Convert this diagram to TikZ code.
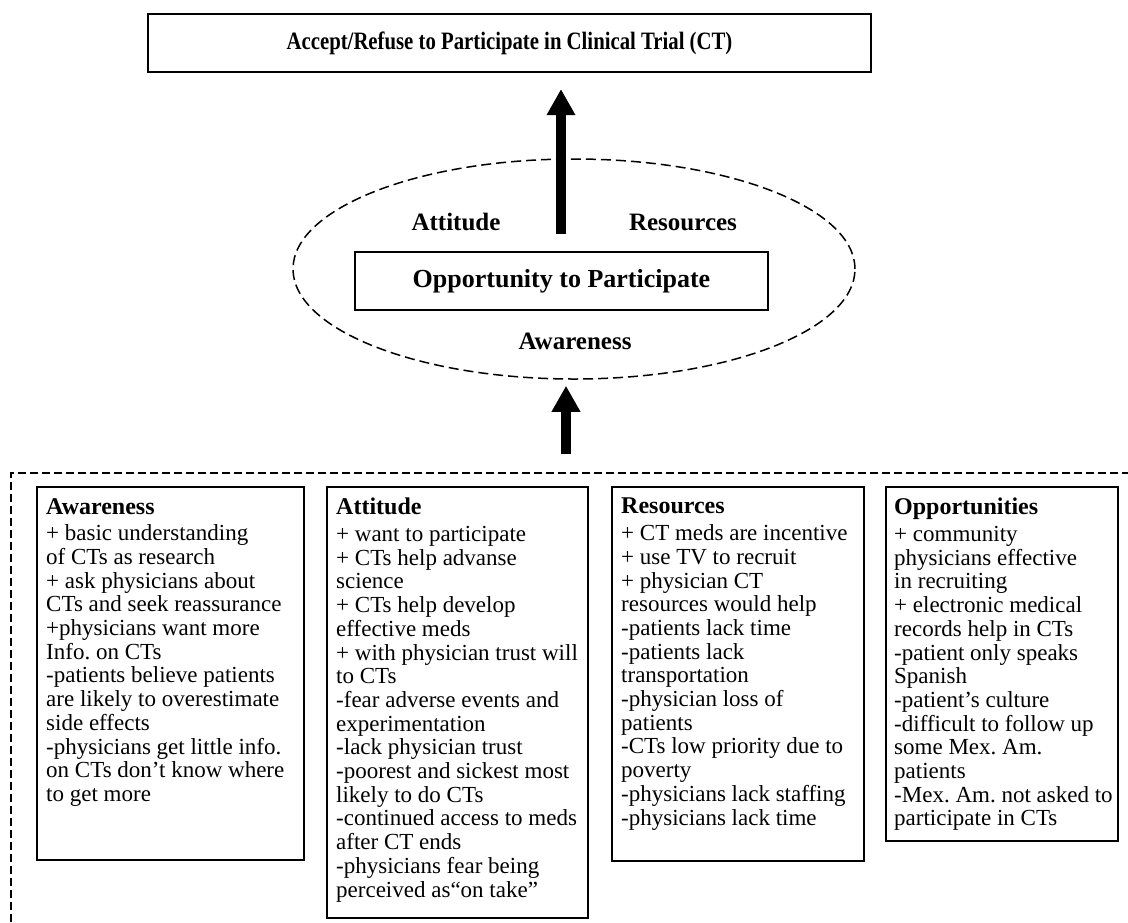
\documentclass[tikz,border=0pt]{standalone}
\usepackage{fontspec}
\setmainfont{Liberation Serif}[Ligatures={TeX,NoCommon}]
\usepackage{graphicx}
\usetikzlibrary{arrows.meta,shapes.geometric}
\begin{document}
\frenchspacing
\begin{tikzpicture}[x=1pt,y=-1pt,
  frame/.style={draw, line width=1.8pt, inner sep=0pt},
  body/.style={anchor=north west, align=left, inner sep=0pt, font=\fontsize{23}{23.7}\selectfont\frenchspacing},
  lab/.style={font=\fontsize{25}{25}\selectfont\bfseries, inner sep=0pt},
  bigarrow/.style={line width=10pt, -{Triangle[width=27pt,length=26pt]}},
  outerdash/.style={line width=1.2pt, dash pattern=on 8pt off 4pt},
]
\useasboundingbox (0,0) rectangle (1128,922);

% top box
\node[frame, line width=2.2pt, minimum width=723pt, minimum height=58pt,
      font=\fontsize{25}{25}\selectfont\bfseries] (top) at (509.5,43)
      {\scalebox{0.83}[1]{Accept/Refuse to Participate in Clinical Trial (CT)}};

% ellipse
\node[draw, ellipse, line width=1.5pt, dash pattern=on 10pt off 5pt,
      minimum width=562pt, minimum height=220pt, inner sep=0pt] (ell) at (574,269) {};

% opportunity box
\node[frame, line width=1.6pt, minimum width=413pt, minimum height=58pt,
      font=\fontsize{26}{26}\selectfont\bfseries] (opp) at (561.5,281) {Opportunity to Participate};

\node[lab] (latt) at (456,222) {Attitude};
\node[lab] (lres) at (683,222) {Resources};
\node[lab] (lawa) at (575,341) {Awareness};

% arrows
\coordinate (a1) at (561,234);
\draw[bigarrow, shorten >=16pt] (a1) -- (top.south -| a1);
\coordinate (a2) at (566,454);
\draw[bigarrow, shorten >=6pt] (a2) -- (ell.south -| a2);

% outer dashed frame
\coordinate (fl) at (11,922);
\coordinate (fc) at (11,473);
\coordinate (fr) at (1128,473);
\draw[outerdash] (fl) -- (fc) -- (fr);

% boxes
\node[frame, anchor=north west, minimum width=267pt, minimum height=373pt] (b1) at (36,486) {};
\node[frame, anchor=north west, minimum width=261pt, minimum height=431pt] (b2) at (326,486) {};
\node[frame, anchor=north west, minimum width=252pt, minimum height=374pt] (b3) at (611,486) {};
\node[frame, anchor=north west, minimum width=232pt, minimum height=354pt] (b4) at (885,486) {};

\node[body] (t1) at (46,498) {{\fontsize{24}{24}\selectfont\bfseries Awareness}\\[3pt]
+ basic understanding\\
of CTs as research\\
+ ask physicians about\\
CTs and seek reassurance\\
+physicians want more\\
Info. on CTs\\
-patients believe patients\\
are likely to overestimate\\
side effects\\
-physicians get little info.\\
on CTs don’t know where\\
to get more};

\node[body] (t2) at (336,498) {{\fontsize{24}{24}\selectfont\bfseries Attitude}\\[3pt]
+ want to participate\\
+ CTs help advanse\\
science\\
+ CTs help develop\\
effective meds\\
+ with physician trust will\\
to CTs\\
-fear adverse events and\\
experimentation\\
-lack physician trust\\
-poorest and sickest most\\
likely to do CTs\\
-continued access to meds\\
after CT ends\\
-physicians fear being\\
perceived as“on take”};

\node[body] (t3) at (621,498) {{\fontsize{24}{24}\selectfont\bfseries Resources}\\[3pt]
+ CT meds are incentive\\
+ use TV to recruit\\
+ physician CT\\
resources would help\\
-patients lack time\\
-patients lack\\
transportation\\
-physician loss of\\
patients\\
-CTs low priority due to\\
poverty\\
-physicians lack staffing\\
-physicians lack time};

\node[body] (t4) at (894,498) {{\fontsize{24}{24}\selectfont\bfseries Opportunities}\\[3pt]
+ community\\
physicians effective\\
in recruiting\\
+ electronic medical\\
records help in CTs\\
-patient only speaks\\
Spanish\\
-patient’s culture\\
-difficult to follow up\\
some Mex. Am.\\
patients\\
-Mex. Am. not asked to\\
participate in CTs};
\end{tikzpicture}
\end{document}
